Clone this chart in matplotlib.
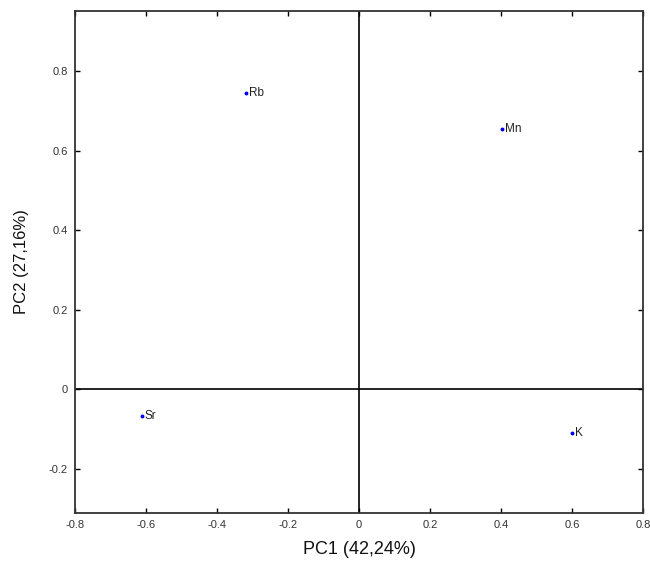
import matplotlib
matplotlib.use("Agg")
import matplotlib.pyplot as plt

labels = ["Rb", "Mn", "Sr", "K"]
pc1 = [-0.318, 0.403, -0.611, 0.600]
pc2 = [0.746, 0.654, -0.068, -0.110]
xticks = [-0.8, -0.6, -0.4, -0.2, 0, 0.2, 0.4, 0.6, 0.8]
yticks = [-0.2, 0, 0.2, 0.4, 0.6, 0.8]

plt.rcParams['font.family'] = ['Liberation Sans', 'DejaVu Sans']
fig = plt.figure(figsize=(6.5, 5.62), dpi=100)
ax = fig.add_axes([75/650, 1 - 513/562, (643-75)/650, (513-11)/562])
ax.set_xlim(-0.8, 0.8)
ax.set_ylim(-0.311, 0.951)
ax.axvline(0, color='black', lw=1.2)
ax.axhline(0, color='black', lw=1.2)
ax.plot(pc1, pc2, 'o', color='blue', ms=1.8, ls='none')
for x, y, t in zip(pc1, pc2, labels):
    ax.annotate(t, (x, y), xytext=(2, 0), textcoords='offset points',
                ha='left', va='center', fontsize=8.5, color='#222222')
ax.set_xticks(xticks)
ax.set_yticks(yticks)
ax.set_xticklabels(['-0.8', '-0.6', '-0.4', '-0.2', '0', '0.2', '0.4', '0.6', '0.8'])
ax.set_yticklabels(['-0.2', '0', '0.2', '0.4', '0.6', '0.8'])
ax.tick_params(direction='in', top=True, right=True, length=3.5, width=1,
               labelsize=8, labelcolor='#333333', pad=5)
for s in ax.spines.values():
    s.set_linewidth(1.3)
    s.set_color('#333333')
ax.set_xlabel('PC1 (42,24%)', fontsize=13, labelpad=8, color='#111111')
ax.set_ylabel('PC2 (27,16%)', fontsize=12, labelpad=14, color='#111111')
fig.savefig('out.png', dpi=100)
